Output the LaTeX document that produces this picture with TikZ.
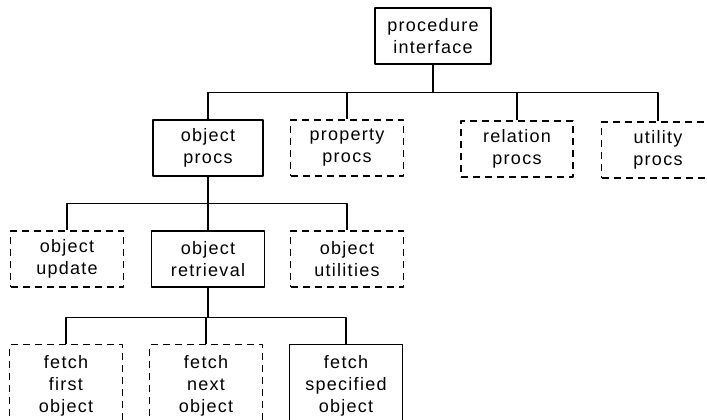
\documentclass[tikz,border=0pt]{standalone}
\usepackage{fontspec}
\setmainfont{Liberation Sans}[LetterSpace=7]
\begin{document}
\begin{tikzpicture}[x=1pt,y=-1pt,line width=1.2pt,line join=round,
    box/.style={draw,rectangle,align=center,inner sep=0pt,
      minimum width=113pt,minimum height=56pt,
      font=\fontsize{18}{22}\selectfont},
    dbox/.style={box,dash pattern=on 7pt off 5pt},
    tall/.style={minimum height=82pt,anchor=north}]
  \useasboundingbox (0,0) rectangle (707,420);
  \clip (0,0) rectangle (707,420);
  % top
  \node[box,minimum width=116pt] (pi) at (433,36) {procedure\\interface};
  % procs
  \node[box,minimum width=110pt] (op) at (208,148) {object\\procs};
  \node[dbox] (pp) at (347,148) {property\\procs};
  \node[dbox,minimum width=112pt] (rp) at (517,149) {relation\\procs};
  \node[dbox] (up) at (658,150) {utility\\procs};
  % object procs
  \node[dbox] (ou) at (67,259) {object\\update};
  \node[box] (or) at (208,259) {object\\retrieval};
  \node[dbox] (ot) at (347,259) {object\\utilities};
  % object retrieval
  \node[dbox,tall] (ff) at (66,344) {fetch\\first\\object};
  \node[dbox,tall] (fn) at (206,344) {fetch\\next\\object};
  \node[box,tall] (fs) at (346,344) {fetch\\specified\\object};
  \draw (pi.south) -- ++(0,28) coordinate (b1);
  \draw (b1) -| (op.north) (b1) -| (pp.north) (b1) -| (rp.north) (b1) -| (up.north);
  \draw (op.south) -- ++(0,27) coordinate (b2);
  \draw (b2) -| (ou.north) (b2) -- (or.north) (b2) -| (ot.north);
  \draw (or.south) -- ++(0,30) coordinate (b3);
  \draw (b3) -| (ff.north) (b3) -| (fn.north) (b3) -| (fs.north);
\end{tikzpicture}
\end{document}
